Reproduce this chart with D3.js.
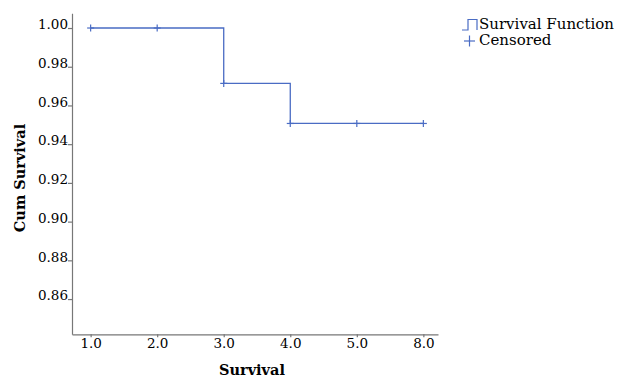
<!DOCTYPE html>
<html>
<head>
<meta charset="utf-8">
<script src="https://cdn.jsdelivr.net/npm/d3@7"></script>
<style>
  html, body { margin: 0; padding: 0; background: #fff; }
  svg text { font-family: "DejaVu Serif", serif; fill: #000; }
  .axis path, .axis line { stroke: #777; stroke-width: 1.2; }
</style>
</head>
<body>
<svg id="chart" width="617" height="377"></svg>
<script>
// Данные: время (категории на оси X), кумулятивная выживаемость, цензурирование
const timeLabels = ["1.0", "2.0", "3.0", "4.0", "5.0", "8.0"];
const survival = [1.0, 1.0, 0.9714, 0.9507, 0.9507, 0.9507];
const censored = [true, true, true, true, true, true];
const yTicks = [0.86, 0.88, 0.90, 0.92, 0.94, 0.96, 0.98, 1.00];

const lineColor = "#4a6cc4";
const svg = d3.select("#chart");

// --- Шкалы ---
const x = d3.scalePoint()
    .domain(timeLabels)
    .range([72, 438])
    .padding(0.25)
    .align(0.56);

const y = d3.scaleLinear()
    .domain([0.8418, 1.0076])
    .range([334.3, 13.3]);

// --- Оси ---
const yAxis = svg.append("g")
    .attr("class", "axis")
    .attr("transform", "translate(72,0)")
    .call(d3.axisLeft(y).tickValues(yTicks).tickFormat(d3.format(".2f")).tickSize(4).tickSizeOuter(0));
yAxis.selectAll("text")
    .attr("x", -4)
    .attr("dy", "0.05em")
    .style("font-size", "13.5px");

const xAxis = svg.append("g")
    .attr("class", "axis")
    .attr("transform", "translate(0,334.3)")
    .call(d3.axisBottom(x).tickSize(3).tickSizeOuter(0));
xAxis.selectAll("text")
    .attr("y", 4)
    .style("font-size", "13.5px");

// Подписи осей
svg.append("text")
    .attr("transform", "translate(25,178) rotate(-90)")
    .attr("text-anchor", "middle")
    .style("font-size", "14.5px")
    .style("font-weight", "bold")
    .text("Cum Survival");

svg.append("text")
    .attr("x", 252)
    .attr("y", 375)
    .attr("text-anchor", "middle")
    .style("font-size", "14.5px")
    .style("font-weight", "bold")
    .text("Survival");

// --- Ступенчатая функция выживаемости ---
const points = timeLabels.map((t, i) => ({ t: t, s: survival[i], c: censored[i] }));

svg.append("path")
    .datum(points)
    .attr("fill", "none")
    .attr("stroke", lineColor)
    .attr("stroke-width", 1.3)
    .attr("d", d3.line()
        .x(d => x(d.t))
        .y(d => y(d.s))
        .curve(d3.curveStepAfter));

// --- Отметки цензурирования (+) ---
const marks = svg.append("g").attr("stroke", lineColor).attr("stroke-width", 1.2);
points.filter(d => d.c).forEach(d => {
    const cx = x(d.t), cy = y(d.s);
    marks.append("line").attr("x1", cx - 3.5).attr("x2", cx + 3.5).attr("y1", cy).attr("y2", cy);
    marks.append("line").attr("x1", cx).attr("x2", cx).attr("y1", cy - 3.5).attr("y2", cy + 3.5);
});

// --- Легенда ---
const legend = svg.append("g");
legend.append("path")
    .attr("d", "M462,30 H468 V19.5 H477 V30")
    .attr("fill", "none")
    .attr("stroke", lineColor)
    .attr("stroke-width", 1.2);
legend.append("text")
    .attr("x", 479)
    .attr("y", 28.5)
    .style("font-size", "15px")
    .text("Survival Function");

legend.append("line").attr("x1", 464).attr("x2", 475).attr("y1", 41).attr("y2", 41)
    .attr("stroke", lineColor).attr("stroke-width", 1.2);
legend.append("line").attr("x1", 469.5).attr("x2", 469.5).attr("y1", 35.5).attr("y2", 46.5)
    .attr("stroke", lineColor).attr("stroke-width", 1.2);
legend.append("text")
    .attr("x", 479)
    .attr("y", 45)
    .style("font-size", "15px")
    .text("Censored");
</script>
</body>
</html>
